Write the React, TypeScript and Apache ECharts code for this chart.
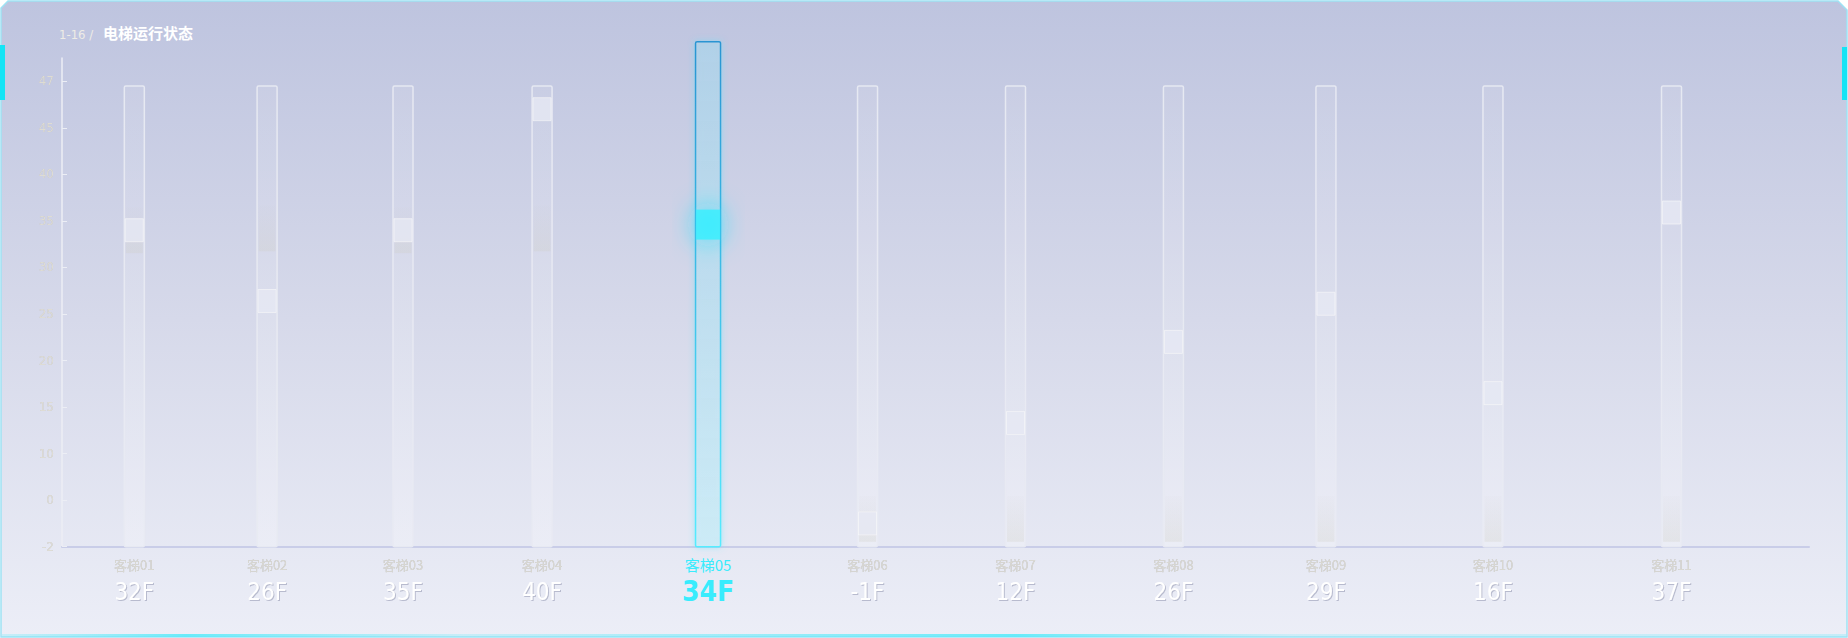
import React, { useEffect, useRef } from 'react';
import * as echarts from 'echarts';

const W = 1848;
const H = 638;

// ---- data ----
const elevatorNames = ['客梯01', '客梯02', '客梯03', '客梯04', '客梯05', '客梯06', '客梯07', '客梯08', '客梯09', '客梯10', '客梯11'];
const currentFloors = [32, 26, 35, 40, 34, -1, 12, 26, 29, 16, 37];
// horizontal slot of each shaft on a 0-100 axis
const slotX = [4.14, 11.74, 19.52, 27.48, 36.98, 46.11, 54.58, 63.62, 72.35, 81.91, 92.13];
// car position (floor units on the y scale)
const carFloors = [34.0, 26.4, 34.0, 45.8, 34.6, -1.0, 13.3, 22.0, 26.1, 16.5, 35.9];
// faint trail (previous position) of each car
const trailFloors = [34.0, 34.2, 34.0, 34.2, null, -0.8, -0.8, -0.8, -0.8, -0.8, -0.8];
const yTickLabels = [-2, 0, 10, 15, 20, 25, 30, 35, 40, 45, 47];
const activeIndex = 4;

const TUBE_TOP = 9.9;
const ACTIVE_TOP = 10.85;

function floorToIdx(f: number): number {
  const t = yTickLabels;
  if (f <= t[0]) return 0;
  for (let i = 0; i < t.length - 1; i++) {
    if (f >= t[i] && f <= t[i + 1]) return i + (f - t[i]) / (t[i + 1] - t[i]);
  }
  return t.length - 1;
}

function nearestSlot(v: number): number {
  let best = 0;
  let d = Infinity;
  slotX.forEach((x, i) => {
    if (Math.abs(x - v) < d) {
      d = Math.abs(x - v);
      best = i;
    }
  });
  return best;
}

export default function App() {
  const ref = useRef<HTMLDivElement>(null);
  useEffect(() => {
    if (!ref.current) return;
    const chart = echarts.init(ref.current, null, { renderer: 'svg' });
    const lg = (a: string, b: string) => new echarts.graphic.LinearGradient(0, 0, 0, 1, [
      { offset: 0, color: a },
      { offset: 1, color: b },
    ]);

    const tubeData = slotX.map((x, i) => [x, i === activeIndex ? ACTIVE_TOP : TUBE_TOP, i]);
    const carData = slotX
      .map((x, i) => ({ i, v: [x, floorToIdx(carFloors[i])] }))
      .filter((d) => d.i !== activeIndex)
      .map((d) => d.v);
    const activeCar = [[slotX[activeIndex], floorToIdx(carFloors[activeIndex])]];
    const trailData = slotX
      .map((x, i) => (trailFloors[i] == null ? null : [x, floorToIdx(trailFloors[i] as number)]))
      .filter((d) => d) as number[][];

    const option: any = {
      animation: false,
      graphic: [
        {
          type: 'polygon',
          z: -10,
          silent: true,
          shape: { points: [[8, 1], [1838, 1], [1847, 10], [1847, 637], [1, 637], [1, 8]] },
          style: {
            fill: new echarts.graphic.LinearGradient(0, 0, 0, 1, [
              { offset: 0, color: '#bec4df' },
              { offset: 0.5, color: '#d6d9ea' },
              { offset: 1, color: '#eceef7' },
            ]),
            stroke: '#9fe2f4',
            lineWidth: 1.5,
          },
        },
        { type: 'rect', z: -5, silent: true, shape: { x: 0, y: 45, width: 5, height: 55 }, style: { fill: '#14e4f5' } },
        { type: 'rect', z: -5, silent: true, shape: { x: 1842, y: 47, width: 5, height: 53 }, style: { fill: '#14e4f5' } },
        {
          type: 'rect', z: -5, silent: true,
          shape: { x: 2, y: 634, width: 1844, height: 3 },
          style: {
            fill: new echarts.graphic.LinearGradient(0, 0, 1, 0, [
              { offset: 0, color: 'rgba(120,235,250,0.3)' },
              { offset: 0.1, color: 'rgba(90,235,250,0.9)' },
              { offset: 0.25, color: 'rgba(120,235,250,0.3)' },
              { offset: 0.55, color: 'rgba(90,235,250,0.9)' },
              { offset: 0.7, color: 'rgba(140,235,250,0.3)' },
              { offset: 1, color: 'rgba(140,235,250,0.4)' },
            ]),
          },
        },
        {
          type: 'text', left: 59, top: 28, silent: true,
          style: { text: '1-16 /', fontSize: 13, fill: '#eeece6', fontFamily: 'DejaVu Sans Condensed' },
        },
        {
          type: 'text', left: 103, top: 25, silent: true,
          style: { text: '电梯运行状态', fontSize: 15, fontWeight: 'bold', fill: '#ffffff', fontFamily: 'Noto Sans CJK SC' },
        },
      ],
      grid: { left: 62, right: 39, top: 58, bottom: 91.3, containLabel: false, outerBoundsMode: 'none' },
      xAxis: {
        type: 'value',
        min: 0,
        max: 100,
        splitLine: { show: false },
        axisTick: { show: false },
        axisLine: { show: true, onZero: false, lineStyle: { color: '#c9cde8', width: 2 } },
        axisLabel: {
          customValues: slotX,
          margin: 8,
          formatter: (v: number) => {
            const i = nearestSlot(v);
            const fl = `${currentFloors[i]}F`;
            return i === activeIndex ? `{an|${elevatorNames[i]}}\n{af|${fl}}` : `{n|${elevatorNames[i]}}\n{f|${fl}}`;
          },
          rich: {
            n: {
              fontSize: 13, lineHeight: 20, color: '#d9d8d2', fontFamily: 'Noto Sans CJK SC',
              textShadowColor: 'rgba(140,140,145,0.55)', textShadowBlur: 1.5,
            },
            f: {
              fontSize: 24, lineHeight: 34, color: '#ffffff', fontFamily: 'DejaVu Sans Condensed',
              textShadowColor: 'rgba(150,155,180,0.6)', textShadowOffsetX: 1, textShadowOffsetY: 1, textShadowBlur: 1,
            },
            an: { fontSize: 15, lineHeight: 20, color: '#38ecfd', fontFamily: 'Noto Sans CJK SC' },
            af: { fontSize: 28, lineHeight: 34, color: '#38ecfd', fontFamily: 'DejaVu Sans Condensed', fontWeight: 'bold' },
          },
        },
      },
      yAxis: {
        type: 'value',
        min: 0,
        max: 10.5,
        interval: 1,
        splitLine: { show: false },
        axisLine: { show: true, lineStyle: { color: '#eceef5', width: 1.5 } },
        axisTick: {
          show: true, inside: true, length: 5,
          customValues: yTickLabels.map((_, i) => i),
          lineStyle: { color: '#eceef5' },
        },
        axisLabel: {
          showMaxLabel: false,
          margin: 8,
          fontSize: 12,
          color: '#dedcd4',
          fontFamily: 'DejaVu Sans',
          textShadowColor: 'rgba(140,140,150,0.45)',
          textShadowBlur: 1.5,
          formatter: (v: number) => {
            const r = Math.round(v);
            if (Math.abs(v - r) > 1e-6) return '';
            const lab = yTickLabels[r];
            return lab === undefined ? '' : String(lab);
          },
        },
      },
      series: [
        {
          type: 'custom',
          name: 'shaft',
          z: 2,
          clip: false,
          data: tubeData,
          renderItem: (params: any, api: any) => {
            const x = api.value(0);
            const top = api.value(1);
            const idx = api.value(2);
            const p0 = api.coord([x, 0]);
            const p1 = api.coord([x, top]);
            const active = idx === activeIndex;
            const w = active ? 25 : 20;
            return {
              type: 'rect',
              shape: { x: p0[0] - w / 2, y: p1[1], width: w, height: p0[1] - p1[1], r: 1.5 },
              style: active
                ? {
                    fill: lg('rgba(182,208,230,0.7)', 'rgba(208,236,246,0.8)'),
                    stroke: lg('#2a94d2', '#55ecff'),
                    lineWidth: 1.5,
                    shadowBlur: 6,
                    shadowColor: 'rgba(80,230,255,0.5)',
                  }
                : {
                    fill: lg('rgba(255,255,255,0.08)', 'rgba(255,255,255,0.22)'),
                    stroke: 'rgba(232,234,242,0.95)',
                    lineWidth: 1.5,
                  },
            };
          },
        },
        {
          type: 'scatter',
          name: 'trail',
          z: 3,
          symbol: 'rect',
          symbolSize: [17, 46],
          data: trailData,
          itemStyle: {
            color: lg('rgba(200,200,200,0.05)', 'rgba(205,205,195,0.35)'),
          },
        },
        {
          type: 'scatter',
          name: 'car',
          z: 4,
          symbol: 'rect',
          symbolSize: [18, 23],
          data: carData,
          itemStyle: {
            color: '#e6e9f4',
            borderColor: 'rgba(250,250,250,0.9)',
            borderWidth: 0.8,
          },
        },
        {
          type: 'scatter',
          name: 'activeCar',
          z: 5,
          symbol: 'rect',
          symbolSize: [24, 30],
          data: activeCar,
          itemStyle: {
            color: '#33f0ff',
            shadowBlur: 26,
            shadowColor: 'rgba(30,225,255,0.95)',
          },
        },
      ],
    };
    chart.setOption(option);
    return () => chart.dispose();
  }, []);
  return (
    <div
      ref={ref}
      style={{ position: 'absolute', left: 0, top: 0, width: W, height: H, background: '#ffffff' }}
    />
  );
}
